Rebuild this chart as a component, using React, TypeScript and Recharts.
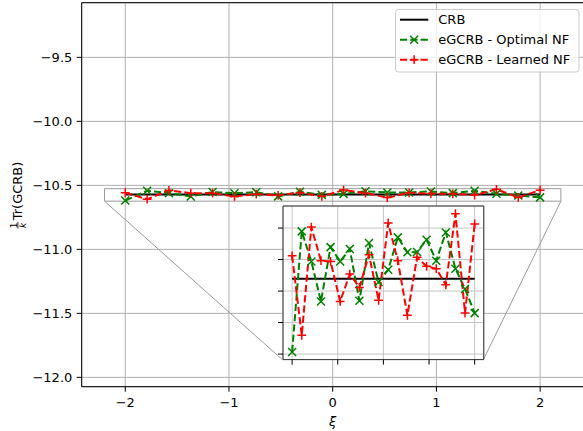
import React from 'react';
import {
  LineChart,
  Line,
  XAxis,
  YAxis,
  CartesianGrid,
  ReferenceArea,
  ReferenceLine,
  Legend,
} from 'recharts';

// ---- data -------------------------------------------------------------
const xi = [
  -2, -1.789, -1.579, -1.368, -1.158, -0.947, -0.737, -0.526, -0.316, -0.105,
  0.105, 0.316, 0.526, 0.737, 0.947, 1.158, 1.368, 1.579, 1.789, 2,
];
const crb = [
  -10.5722, -10.5722, -10.5722, -10.5722, -10.5722, -10.5722, -10.5722, -10.5722, -10.5722, -10.5722,
  -10.5722, -10.5722, -10.5722, -10.5722, -10.5722, -10.5722, -10.5722, -10.5722, -10.5722, -10.5722,
];
const optimalNF = [
  -10.6187, -10.5421, -10.5612, -10.5866, -10.5521, -10.5612, -10.5533, -10.5861, -10.5495, -10.5743,
  -10.5665, -10.5459, -10.5554, -10.5552, -10.5474, -10.5607, -10.5428, -10.5658, -10.5787, -10.594,
];
const learnedNF = [
  -10.5576, -10.6081, -10.5394, -10.5607, -10.5612, -10.5866, -10.5692, -10.5777, -10.5569, -10.5859,
  -10.5368, -10.5607, -10.5954, -10.5586, -10.5643, -10.5658, -10.576, -10.5309, -10.594, -10.5374,
];

const mainXTicks = [-2, -1, 0, 1, 2];
const mainYTicks = [-12, -11.5, -11, -10.5, -10, -9.5];
const insetXTicks = [-2, -1, 0, 1, 2];
const insetYTicks = [-10.62, -10.6, -10.58, -10.56, -10.54];

const seriesNames = ['CRB', 'eGCRB - Optimal NF', 'eGCRB - Learned NF'];

const rows = xi.map((x, i) => ({
  x,
  crb: crb[i],
  optimal: optimalNF[i],
  learned: learnedNF[i],
}));

// ---- layout -------------------------------------------------------------
const FONT = 'DejaVu Sans';
const FS = 13;
const GREEN = '#008000';
const RED = '#ff0000';
const DASH = '7.2 3.1';

const CHART_W = 600;
const CHART_H = 431;
const PLOT_LEFT = 81.7;
const PLOT_TOP = 2.7;
const PLOT_W = 502;
const PLOT_H = 384;

const X_DOMAIN: [number, number] = [-2.42, 2.42];
const Y_DOMAIN: [number, number] = [-12.073, -9.073];
const ZOOM_X: [number, number] = [-2.2, 2.2];
const ZOOM_Y: [number, number] = [-10.6235, -10.526];

// inset axes placement, in fractions of the main axes
const INSET = { x0: 0.4, y0: 0.07, w: 0.4, h: 0.4 };

const insetLeftPx = PLOT_LEFT + INSET.x0 * PLOT_W;
const insetTopPx = PLOT_TOP + (1 - INSET.y0 - INSET.h) * PLOT_H;
const insetWPx = INSET.w * PLOT_W;
const insetHPx = INSET.h * PLOT_H;

// inset corners expressed in main-axes data units
const insetLeftData = X_DOMAIN[0] + INSET.x0 * (X_DOMAIN[1] - X_DOMAIN[0]);
const insetRightData = X_DOMAIN[0] + (INSET.x0 + INSET.w) * (X_DOMAIN[1] - X_DOMAIN[0]);
const insetBottomData = Y_DOMAIN[0] + INSET.y0 * (Y_DOMAIN[1] - Y_DOMAIN[0]);

const INSET_YAXIS_W = 12;
const INSET_XAXIS_H = 12;
const INSET_PAD = 3;

const minus = (s: string) => s.replace('-', '\u2212');

// ---- markers -----------------------------------------------------------
const XMark = ({ cx, cy, color }: { cx: number; cy: number; color: string }) => {
  const r = 4;
  return (
    <path
      d={`M${cx - r},${cy - r}L${cx + r},${cy + r}M${cx - r},${cy + r}L${cx + r},${cy - r}`}
      stroke={color}
      strokeWidth={1.5}
      fill="none"
    />
  );
};

const PlusMark = ({ cx, cy, color }: { cx: number; cy: number; color: string }) => {
  const r = 4.4;
  return (
    <path
      d={`M${cx - r},${cy}L${cx + r},${cy}M${cx},${cy - r}L${cx},${cy + r}`}
      stroke={color}
      strokeWidth={1.5}
      fill="none"
    />
  );
};

const greenDot = (p: any) =>
  p.cx == null ? <g key={p.index} /> : <XMark key={p.index} cx={p.cx} cy={p.cy} color={GREEN} />;
const redDot = (p: any) =>
  p.cx == null ? <g key={p.index} /> : <PlusMark key={p.index} cx={p.cx} cy={p.cy} color={RED} />;

// ---- labels ------------------------------------------------------------
const YTitle = () => {
  const cx = 21.5;
  const cy = 195;
  return (
    <g transform={`translate(${cx},${cy}) rotate(-90)`} fontFamily={FONT} fill="black">
      <text x={-30.3} y={-5} fontSize={9} textAnchor="middle">1</text>
      <line x1={-33.6} x2={-27} y1={-3.6} y2={-3.6} stroke="black" strokeWidth={0.8} />
      <text x={-30.3} y={4.6} fontSize={9} fontStyle="italic" textAnchor="middle">k</text>
      <text x={-25.3} y={0} fontSize={FS} textAnchor="start">Tr(GCRB)</text>
    </g>
  );
};

const XTitle = () => (
  <text
    x={PLOT_LEFT + PLOT_W / 2}
    y={426}
    fontFamily={FONT}
    fontSize={FS}
    fontStyle="italic"
    textAnchor="middle"
    fill="black"
  >
    ξ
  </text>
);

// ---- legend ------------------------------------------------------------
const LEGEND_W = 185;
const LEGEND_H = 64;

const LegendBox = () => {
  const rowsY = [10.7, 30.7, 50.7];
  const x1 = 5;
  const x2 = 33.3;
  const mid = (x1 + x2) / 2;
  const textX = 43.3;
  return (
    <svg width={LEGEND_W} height={LEGEND_H} style={{ display: 'block' }}>
      <rect
        x={0.5}
        y={0.5}
        width={LEGEND_W - 1.5}
        height={LEGEND_H - 1.5}
        rx={3}
        ry={3}
        fill="white"
        fillOpacity={0.8}
        stroke="#cccccc"
        strokeWidth={1}
      />
      <line x1={x1} x2={x2} y1={rowsY[0]} y2={rowsY[0]} stroke="black" strokeWidth={2} />
      <line x1={x1} x2={x2} y1={rowsY[1]} y2={rowsY[1]} stroke={GREEN} strokeWidth={2} strokeDasharray={DASH} />
      <XMark cx={mid} cy={rowsY[1]} color={GREEN} />
      <line x1={x1} x2={x2} y1={rowsY[2]} y2={rowsY[2]} stroke={RED} strokeWidth={2} strokeDasharray={DASH} />
      <PlusMark cx={mid} cy={rowsY[2]} color={RED} />
      {seriesNames.map((name, i) => (
        <text key={name} x={textX} y={rowsY[i] + 4.7} fontFamily={FONT} fontSize={FS} fill="black">
          {name}
        </text>
      ))}
    </svg>
  );
};

const axisTick = { fontSize: FS, fontFamily: FONT, fill: 'black' };
const emptyTick = () => <g />;

// ---- charts ------------------------------------------------------------
const ZoomInset = () => (
  <div
    style={{
      position: 'absolute',
      left: insetLeftPx - INSET_YAXIS_W,
      top: insetTopPx - INSET_PAD,
      width: INSET_YAXIS_W + insetWPx + INSET_PAD,
      height: INSET_PAD + insetHPx + INSET_XAXIS_H,
    }}
  >
    <LineChart
      width={INSET_YAXIS_W + insetWPx + INSET_PAD}
      height={INSET_PAD + insetHPx + INSET_XAXIS_H}
      data={rows}
      margin={{ top: INSET_PAD, right: INSET_PAD, left: 0, bottom: 0 }}
    >
      <CartesianGrid stroke="#c4c4c4" strokeWidth={1} fill="white" fillOpacity={1} />
      <XAxis
        dataKey="x"
        type="number"
        domain={ZOOM_X}
        ticks={insetXTicks}
        allowDataOverflow
        height={INSET_XAXIS_H}
        axisLine={false}
        tickSize={5}
        tickLine={{ stroke: 'black', strokeWidth: 1 }}
        tick={emptyTick}
      />
      <YAxis
        type="number"
        domain={ZOOM_Y}
        ticks={insetYTicks}
        allowDataOverflow
        width={INSET_YAXIS_W}
        axisLine={false}
        tickSize={5}
        tickLine={{ stroke: 'black', strokeWidth: 1 }}
        tick={emptyTick}
      />
      <Line dataKey="crb" stroke="black" strokeWidth={2} dot={false} activeDot={false} isAnimationActive={false} />
      <Line
        dataKey="optimal"
        stroke={GREEN}
        strokeWidth={2}
        strokeDasharray={DASH}
        dot={greenDot}
        activeDot={false}
        isAnimationActive={false}
      />
      <Line
        dataKey="learned"
        stroke={RED}
        strokeWidth={2}
        strokeDasharray={DASH}
        dot={redDot}
        activeDot={false}
        isAnimationActive={false}
      />
      <ReferenceArea
        x1={ZOOM_X[0]}
        x2={ZOOM_X[1]}
        y1={ZOOM_Y[0]}
        y2={ZOOM_Y[1]}
        fill="none"
        stroke="#333333"
        strokeWidth={1}
        ifOverflow="visible"
      />
    </LineChart>
  </div>
);

export default function App() {
  return (
    <div
      style={{
        position: 'absolute',
        left: 0,
        top: 0,
        width: 583,
        height: 431,
        overflow: 'hidden',
        background: 'white',
      }}
    >
      <LineChart
        width={CHART_W}
        height={CHART_H}
        data={rows}
        margin={{ top: PLOT_TOP, right: CHART_W - PLOT_LEFT - PLOT_W, left: 0, bottom: 0 }}
      >
        <CartesianGrid stroke="#b0b0b0" strokeWidth={1} />
        <XAxis
          dataKey="x"
          type="number"
          domain={X_DOMAIN}
          ticks={mainXTicks}
          allowDataOverflow
          height={CHART_H - PLOT_TOP - PLOT_H}
          axisLine={{ stroke: 'black', strokeWidth: 1 }}
          tickLine={{ stroke: 'black', strokeWidth: 1 }}
          tickSize={5}
          tickMargin={6.5}
          tick={axisTick}
          tickFormatter={(v: number) => minus(String(v))}
          label={XTitle}
        />
        <YAxis
          type="number"
          domain={Y_DOMAIN}
          ticks={mainYTicks}
          allowDataOverflow
          width={PLOT_LEFT}
          axisLine={{ stroke: 'black', strokeWidth: 1 }}
          tickLine={{ stroke: 'black', strokeWidth: 1 }}
          tickSize={5}
          tickMargin={4.4}
          tick={axisTick}
          tickFormatter={(v: number) => minus(v.toFixed(1))}
          label={YTitle}
        />
        <ReferenceLine y={Y_DOMAIN[1]} stroke="black" strokeWidth={1} ifOverflow="visible" />
        <Line dataKey="crb" stroke="black" strokeWidth={2} dot={false} activeDot={false} isAnimationActive={false} />
        <Line
          dataKey="optimal"
          stroke={GREEN}
          strokeWidth={2}
          strokeDasharray={DASH}
          dot={greenDot}
          activeDot={false}
          isAnimationActive={false}
        />
        <Line
          dataKey="learned"
          stroke={RED}
          strokeWidth={2}
          strokeDasharray={DASH}
          dot={redDot}
          activeDot={false}
          isAnimationActive={false}
        />
        <ReferenceArea
          x1={ZOOM_X[0]}
          x2={ZOOM_X[1]}
          y1={ZOOM_Y[0]}
          y2={ZOOM_Y[1]}
          fill="none"
          stroke="#9a9a9a"
          strokeWidth={1}
          ifOverflow="visible"
        />
        <ReferenceLine
          segment={[
            { x: ZOOM_X[0], y: ZOOM_Y[0] },
            { x: insetLeftData, y: insetBottomData },
          ]}
          stroke="#9a9a9a"
          strokeWidth={1}
          ifOverflow="visible"
        />
        <ReferenceLine
          segment={[
            { x: ZOOM_X[1], y: ZOOM_Y[0] },
            { x: insetRightData, y: insetBottomData },
          ]}
          stroke="#9a9a9a"
          strokeWidth={1}
          ifOverflow="visible"
        />
        <Legend
          layout="horizontal"
          verticalAlign="middle"
          align="center"
          content={LegendBox}
          wrapperStyle={{ left: 395, top: 9.3, width: LEGEND_W, height: LEGEND_H, margin: 0, padding: 0 }}
        />
      </LineChart>
      <ZoomInset />
    </div>
  );
}
